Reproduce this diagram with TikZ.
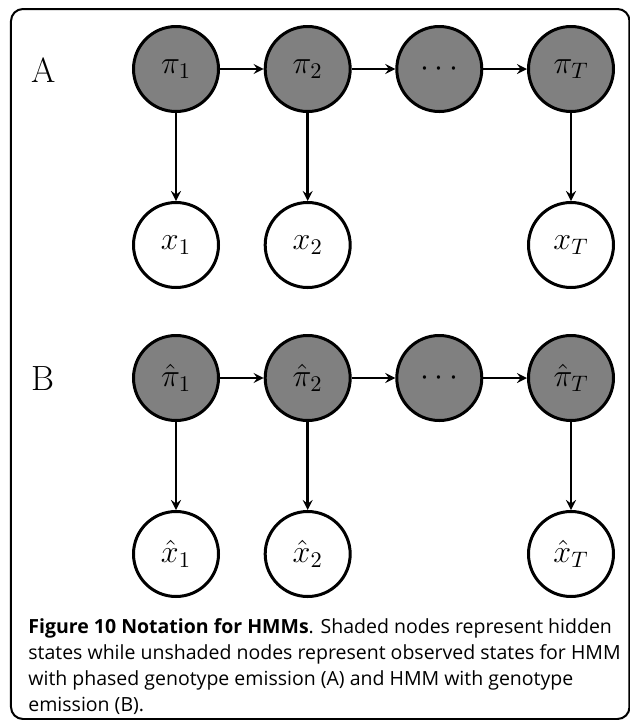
\RequirePackage{fix-cm}
\documentclass[tikz,border=0pt]{standalone}
\usepackage{fontspec}
\newfontfamily\capfont{Open Sans}
\usetikzlibrary{positioning}

\begin{document}
\begin{tikzpicture}[x=0.5pt,y=-0.5pt,>=stealth,
  hid/.style={circle,draw,line width=1.5pt,fill=gray,minimum size=42.5pt,inner sep=0pt,font=\fontsize{16}{18}\selectfont},
  obs/.style={hid,fill=white},
  lab/.style={font=\fontsize{17.5}{20}\selectfont},
  link/.style={->,line width=1.2pt}]
\useasboundingbox (0,0) rectangle (630,720);
\draw[line width=1pt,rounded corners=6pt] (11,9) rectangle (629.5,719);

% A: phased genotype emission
\node[lab] (labA) at (44,70) {A};
\node[hid] (p1) at (176,69) {$\pi_1$};
\node[hid] (p2) at (307.7,69) {$\pi_2$};
\node[hid] (pd) at (439.3,69) {$\cdots$};
\node[hid] (pT) at (571,69) {$\pi_T$};
\node[obs] (x1) at (176,245) {$x_1$};
\node[obs] (x2) at (307.7,245) {$x_2$};
\node[obs] (xT) at (571,245) {$x_T$};
\draw[link] (p1) -- (p2);
\draw[link] (p2) -- (pd);
\draw[link] (pd) -- (pT);
\draw[link] (p1) -- (x1);
\draw[link] (p2) -- (x2);
\draw[link] (pT) -- (xT);

% B: genotype emission
\node[lab] (labB) at (43,379) {B};
\node[hid] (q1) at (176,378) {$\hat\pi_1$};
\node[hid] (q2) at (307.7,378) {$\hat\pi_2$};
\node[hid] (qd) at (439.3,378) {$\cdots$};
\node[hid] (qT) at (571,378) {$\hat\pi_T$};
\node[obs] (y1) at (176,554) {$\hat x_1$};
\node[obs] (y2) at (307.7,554) {$\hat x_2$};
\node[obs] (yT) at (571,554) {$\hat x_T$};
\draw[link] (q1) -- (q2);
\draw[link] (q2) -- (qd);
\draw[link] (qd) -- (qT);
\draw[link] (q1) -- (y1);
\draw[link] (q2) -- (y2);
\draw[link] (qT) -- (yT);

\node[anchor=north west,inner sep=0pt,align=left,font=\capfont\fontsize{9.75}{13}\selectfont] (cap) at (28,618.5)
  {\textbf{Figure 10 Notation for HMMs}. Shaded nodes represent hidden\\
   states while unshaded nodes represent observed states for HMM\\
   with phased genotype emission (A) and HMM with genotype\\
   emission (B).};
\end{tikzpicture}
\end{document}
